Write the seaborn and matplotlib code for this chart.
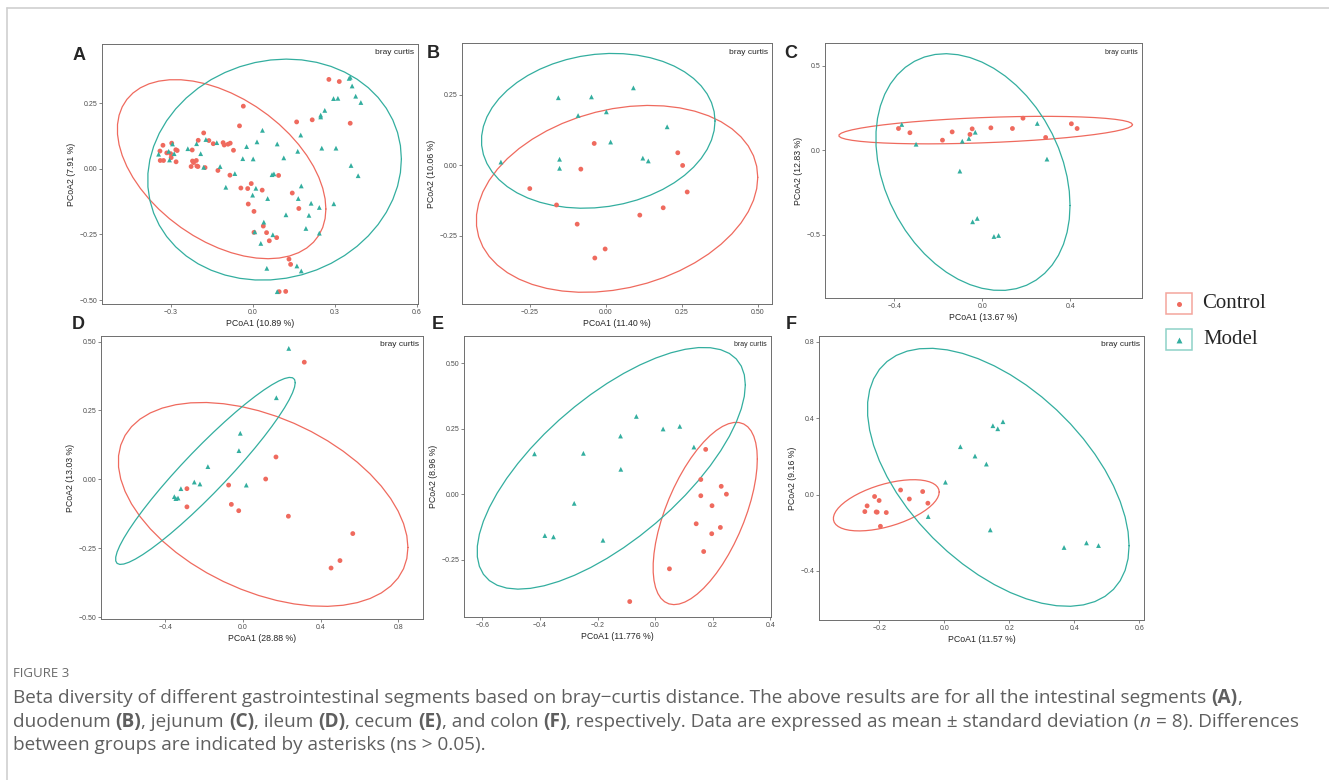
import numpy as np
import pandas as pd
import matplotlib
matplotlib.use("Agg")
import matplotlib.pyplot as plt
import seaborn as sns
from matplotlib.patches import Rectangle
from matplotlib.lines import Line2D
from matplotlib.ticker import FuncFormatter

# ---- data (PCoA coordinates) ----
groups = ["Control", "Model"]

a_ctrl_x = [0.278, 0.316, -0.035, -0.049, 0.160, 0.217, 0.356, -0.180, -0.200, -0.161, -0.145, -0.109, -0.105, -0.091,
            -0.083, -0.071, -0.329, -0.297, -0.340, -0.315, -0.301, -0.299, -0.282, -0.277, -0.339, -0.327, -0.281,
            -0.222, -0.221, -0.217, -0.207, -0.205, -0.201, -0.226, -0.175, -0.128, -0.084, -0.006, -0.044, -0.019,
            0.034, -0.017, 0.094, 0.144, 0.168, 0.004, 0.038, 0.004, 0.050, 0.087, 0.060, 0.132, 0.138, 0.096, 0.120]
a_ctrl_y = [0.341, 0.333, 0.239, 0.164, 0.179, 0.187, 0.174, 0.137, 0.109, 0.108, 0.096, 0.100, 0.091, 0.094,
            0.098, 0.071, 0.090, 0.098, 0.068, 0.061, 0.058, 0.043, 0.073, 0.070, 0.032, 0.032, 0.027,
            0.072, 0.030, 0.024, 0.032, 0.011, 0.009, 0.009, 0.005, -0.006, -0.024, -0.056, -0.073, -0.075,
            -0.081, -0.134, -0.025, -0.092, -0.151, -0.162, -0.218, -0.242, -0.243, -0.262, -0.274, -0.344, -0.364,
            -0.468, -0.467]
a_model_x = [-0.294, -0.238, -0.206, -0.172, -0.132, -0.191, -0.345, -0.308, -0.288, -0.305, -0.180, -0.120, -0.066,
             -0.023, 0.015, 0.035, -0.037, 0.001, -0.099, 0.011, 0.054, -0.001, 0.070, 0.077, 0.177, 0.166, 0.213,
             0.121, 0.205, 0.194, 0.243, 0.040, 0.007, 0.073, 0.029, 0.161, 0.177, 0.051, 0.089, 0.352, 0.356, 0.363,
             0.376, 0.395, 0.295, 0.311, 0.263, 0.248, 0.248, 0.175, 0.089, 0.164, 0.113, 0.252, 0.304, 0.359, 0.385,
             0.296, 0.243]
a_model_y = [0.095, 0.077, 0.096, 0.112, 0.100, 0.058, 0.056, 0.067, 0.058, 0.034, 0.006, 0.009, -0.018,
             0.085, 0.103, 0.147, 0.039, 0.038, -0.070, -0.074, -0.113, -0.100, -0.022, -0.019, -0.065, -0.113, -0.131,
             -0.175, -0.177, -0.227, -0.245, -0.203, -0.240, -0.251, -0.284, -0.370, -0.389, -0.379, -0.468, 0.345,
             0.349, 0.316, 0.277, 0.253, 0.268, 0.269, 0.223, 0.205, 0.198, 0.129, 0.095, 0.067, 0.042, 0.079, 0.079,
             0.013, -0.026, -0.133, -0.147]

b_ctrl_x = [-0.038, -0.082, -0.250, -0.162, -0.094, -0.002, -0.036, 0.112, 0.189, 0.237, 0.253, 0.268]
b_ctrl_y = [0.077, -0.014, -0.083, -0.141, -0.209, -0.297, -0.329, -0.177, -0.151, 0.044, -0.001, -0.095]
b_model_x = [-0.156, -0.047, 0.091, -0.091, 0.002, 0.202, 0.016, -0.345, -0.152, -0.152, 0.122, 0.140]
b_model_y = [0.239, 0.242, 0.274, 0.176, 0.189, 0.136, 0.082, 0.011, 0.021, -0.011, 0.025, 0.015]

c_ctrl_x = [-0.381, -0.329, -0.181, -0.137, -0.046, -0.056, 0.039, 0.137, 0.185, 0.288, 0.405, 0.431]
c_ctrl_y = [0.130, 0.105, 0.061, 0.110, 0.128, 0.095, 0.134, 0.130, 0.191, 0.077, 0.158, 0.130]
c_model_x = [-0.366, -0.301, -0.091, -0.061, -0.032, -0.102, -0.044, -0.023, 0.053, 0.074, 0.250, 0.294]
c_model_y = [0.154, 0.037, 0.055, 0.071, 0.108, -0.122, -0.422, -0.402, -0.509, -0.503, 0.160, -0.051]

d_ctrl_x = [0.316, 0.170, 0.117, -0.074, -0.060, -0.022, -0.289, -0.289, 0.234, 0.566, 0.500, 0.454]
d_ctrl_y = [0.425, 0.081, 0.001, -0.021, -0.091, -0.114, -0.034, -0.100, -0.134, -0.197, -0.295, -0.322]
d_model_x = [0.236, 0.172, -0.014, -0.021, -0.181, 0.017, -0.251, -0.222, -0.320, -0.354, -0.346, -0.335]
d_model_y = [0.475, 0.296, 0.167, 0.104, 0.046, -0.021, -0.010, -0.017, -0.034, -0.063, -0.070, -0.068]

e_ctrl_x = [0.176, 0.159, 0.230, 0.248, 0.159, 0.198, 0.143, 0.227, 0.197, 0.169, 0.050, -0.088]
e_ctrl_y = [0.172, 0.057, 0.031, 0.001, -0.005, -0.043, -0.112, -0.126, -0.150, -0.218, -0.284, -0.409]
e_model_x = [-0.065, 0.028, 0.086, -0.120, 0.135, -0.419, -0.249, -0.119, -0.281, -0.383, -0.353, -0.181]
e_model_y = [0.298, 0.250, 0.260, 0.223, 0.181, 0.155, 0.157, 0.096, -0.034, -0.157, -0.162, -0.175]

f_ctrl_x = [-0.245, -0.238, -0.215, -0.201, -0.210, -0.207, -0.179, -0.197, -0.135, -0.108, -0.067, -0.051]
f_ctrl_y = [-0.089, -0.059, -0.010, -0.031, -0.091, -0.092, -0.094, -0.166, 0.024, -0.023, 0.016, -0.045]
f_model_x = [0.003, -0.050, 0.049, 0.094, 0.129, 0.149, 0.164, 0.180, 0.141, 0.368, 0.437, 0.474]
f_model_y = [0.065, -0.115, 0.251, 0.202, 0.160, 0.361, 0.345, 0.382, -0.185, -0.277, -0.253, -0.267]

x_titles = ["PCoA1 (10.89 %)", "PCoA1 (11.40 %)", "PCoA1 (13.67 %)", "PCoA1 (28.88 %)", "PCoA1 (11.776 %)", "PCoA1 (11.57 %)"]
y_titles = ["PCoA2 (7.91 %)", "PCoA2 (10.06 %)", "PCoA2 (12.83 %)", "PCoA2 (13.03 %)", "PCoA2 (8.96 %)", "PCoA2 (9.16 %)"]
letters = ["A", "B", "C", "D", "E", "F"]

RED = "#EF6A5E"
TEAL = "#33AE9F"
palette = {"Control": RED, "Model": TEAL}

W, H = 1329, 780


def trob(xy, nu=5, tol=1e-4, maxit=25):
    # robust t covariance, like MASS::cov.trob used by stat_ellipse
    n, p = xy.shape
    loc = xy.mean(0)
    w = np.ones(n)
    for _ in range(maxit):
        w0 = w
        X = xy - loc
        _, d, vt = np.linalg.svd(np.sqrt(w / w.sum())[:, None] * X, full_matrices=False)
        Q = ((X @ vt.T / d) ** 2).sum(1)
        w = (nu + p) / (nu + Q)
        loc = (w[:, None] * xy).sum(0) / w.sum()
        if np.all(np.abs(w - w0) < tol):
            break
    sx = np.sqrt(w)[:, None] * X
    return loc, sx.T @ sx / n


def ellipse(xs, ys, level=0.95, seg=51):
    xy = np.column_stack([xs, ys])
    n = len(xy)
    center, shape = trob(xy)
    dfd = n - 1
    radius = np.sqrt(dfd * ((1 - level) ** (-2 / dfd) - 1))
    t = np.linspace(0, 2 * np.pi, seg + 1)
    circ = np.column_stack([np.cos(t), np.sin(t)])
    U = np.linalg.cholesky(shape).T
    e = center + radius * circ @ U
    return e[:, 0], e[:, 1]


panels = [
    dict(cx=a_ctrl_x, cy=a_ctrl_y, mx=a_model_x, my=a_model_y, box=(102, 44, 418, 304),
         xlim=(-0.552, 0.604), ylim=(-0.515, 0.476), xt=[-0.3, 0, 0.3, 0.6], yt=[-0.5, -0.25, 0, 0.25], xd=1, yd=2, bc=6),
    dict(cx=b_ctrl_x, cy=b_ctrl_y, mx=b_model_x, my=b_model_y, box=(462, 43, 772, 304),
         xlim=(-0.473, 0.547), ylim=(-0.492, 0.433), xt=[-0.25, 0, 0.25, 0.5], yt=[-0.25, 0, 0.25], xd=2, yd=2, bc=6),
    dict(cx=c_ctrl_x, cy=c_ctrl_y, mx=c_model_x, my=c_model_y, box=(825, 43, 1142, 298),
         xlim=(-0.715, 0.726), ylim=(-0.873, 0.636), xt=[-0.4, 0, 0.4], yt=[-0.5, 0, 0.5], xd=1, yd=1, bc=5),
    dict(cx=d_ctrl_x, cy=d_ctrl_y, mx=d_model_x, my=d_model_y, box=(101, 336, 423, 619),
         xlim=(-0.732, 0.928), ylim=(-0.507, 0.520), xt=[-0.4, 0, 0.4, 0.8], yt=[-0.5, -0.25, 0, 0.25, 0.5], xd=1, yd=2, bc=6),
    dict(cx=e_ctrl_x, cy=e_ctrl_y, mx=e_model_x, my=e_model_y, box=(464, 336, 771, 617),
         xlim=(-0.664, 0.403), ylim=(-0.468, 0.605), xt=[-0.6, -0.4, -0.2, 0, 0.2, 0.4], yt=[-0.25, 0, 0.25, 0.5], xd=1, yd=2, bc=5),
    dict(cx=f_ctrl_x, cy=f_ctrl_y, mx=f_model_x, my=f_model_y, box=(819, 336, 1144, 620),
         xlim=(-0.386, 0.614), ylim=(-0.657, 0.831), xt=[-0.2, 0, 0.2, 0.4, 0.6], yt=[-0.4, 0, 0.4, 0.8], xd=1, yd=1, bc=6),
]
letter_pos = [(79, 55), (433, 53), (791, 53), (78, 324), (438, 324), (791, 324)]

sns.set_style("white")
plt.rcParams["font.family"] = ["Liberation Sans", "DejaVu Sans"]

fig = plt.figure(figsize=(W / 100, H / 100), dpi=100)


def fmt(d):
    return FuncFormatter(lambda v, p: f"{v:.{d}f}".replace("-", "\u2212"))


for i, pn in enumerate(panels):
    x0, y0, x1, y1 = pn["box"]
    ax = fig.add_axes([x0 / W, 1 - y1 / H, (x1 - x0) / W, (y1 - y0) / H])
    df = pd.DataFrame({
        "PCoA1": pn["cx"] + pn["mx"],
        "PCoA2": pn["cy"] + pn["my"],
        "Group": ["Control"] * len(pn["cx"]) + ["Model"] * len(pn["mx"]),
    })
    sns.scatterplot(data=df, x="PCoA1", y="PCoA2", hue="Group", style="Group", palette=palette,
                    markers={"Control": "o", "Model": "^"}, s=12, linewidth=0, legend=False, ax=ax, zorder=3)
    for g in groups:
        sub = df[df.Group == g]
        ex, ey = ellipse(sub.PCoA1.values, sub.PCoA2.values)
        ax.plot(ex, ey, color=palette[g], lw=0.9, zorder=2)
    ax.set_xlim(*pn["xlim"])
    ax.set_ylim(*pn["ylim"])
    ax.set_xticks(pn["xt"])
    ax.set_yticks(pn["yt"])
    ax.xaxis.set_major_formatter(fmt(pn["xd"]))
    ax.yaxis.set_major_formatter(fmt(pn["yd"]))
    ax.tick_params(length=2, width=0.5, color="#555555", labelsize=5, labelcolor="#4d4d4d", pad=1.5,
                   bottom=True, left=True)
    ax.set_xlabel(x_titles[i], fontsize=6.3, labelpad=2)
    ax.set_ylabel(y_titles[i], fontsize=6.3, labelpad=2)
    for sp in ax.spines.values():
        sp.set_color("#6e6e6e")
        sp.set_linewidth(0.7)
    ax.text(1 - 4 / (x1 - x0), 1 - 9 / (y1 - y0), "bray curtis", transform=ax.transAxes,
            ha="right", va="center", fontsize=pn["bc"])
    lx, ly = letter_pos[i]
    fig.text(lx / W, 1 - ly / H, letters[i], fontsize=13, fontweight="bold", ha="center", va="center")

# legend
lax = fig.add_axes([1150 / W, 1 - 360 / H, 130 / W, 80 / H])
lax.set_xlim(1150, 1280)
lax.set_ylim(360, 280)
lax.axis("off")
lax.add_patch(Rectangle((1166, 293), 26, 21, fill=False, ec="#F4A59D", lw=1.1))
lax.add_patch(Rectangle((1166, 329), 26, 21, fill=False, ec="#8ED2C8", lw=1.1))
lax.scatter([1179], [303.5], s=13, color=RED, marker="o", linewidths=0)
lax.scatter([1179], [339.5], s=18, color=TEAL, marker="^", linewidths=0)
lax.text(1202, 304, "Control", family="Liberation Serif", fontsize=15, va="center")
lax.text(1203, 340, "Model", family="Liberation Serif", fontsize=15, va="center")

# page border
fig.add_artist(Line2D([7 / W, 7 / W], [0, 1 - 8 / H], color="#cfcfcf", lw=1.2))
fig.add_artist(Line2D([7 / W, 1], [1 - 8 / H, 1 - 8 / H], color="#cfcfcf", lw=1.2))

# caption
renderer = fig.canvas.get_renderer()
CAP = "#5f5f5f"
CAPFONT = "Open Sans"
CAPSIZE = 13.65


def draw_runs(x, y, parts, size=CAPSIZE, family=CAPFONT):
    for s, st in parts:
        kw = dict(fontsize=size, color=CAP, family=family, va="baseline", ha="left")
        if st == "b":
            kw["fontweight"] = "bold"
        if st == "i":
            kw["fontstyle"] = "italic"
        fig.text(x / W, 1 - y / H, s, **kw)
        t1 = fig.text(0, 0, "|" + s + "|", **kw)
        t2 = fig.text(0, 0, "||", **kw)
        x += t1.get_window_extent(renderer).width - t2.get_window_extent(renderer).width
        t1.remove()
        t2.remove()


fig.text(13 / W, 1 - 677 / H, "FIGURE 3", fontsize=9.5, color="#6a6a6a", family=CAPFONT, va="baseline")
draw_runs(13, 703, [("Beta diversity of different gastrointestinal segments based on bray\u2212curtis distance. "
                     "The above results are for all the intestinal segments ", ""), ("(A)", "b"), (",", "")])
draw_runs(13, 727, [("duodenum ", ""), ("(B)", "b"), (", jejunum ", ""), ("(C)", "b"), (", ileum ", ""), ("(D)", "b"),
                    (", cecum ", ""), ("(E)", "b"), (", and colon ", ""), ("(F)", "b"),
                    (", respectively. Data are expressed as mean \u00b1 standard deviation (", ""), ("n", "i"),
                    (" = 8). Differences", "")])
draw_runs(13, 750, [("between groups are indicated by asterisks (ns > 0.05).", "")])

fig.savefig("out.png", dpi=100)
